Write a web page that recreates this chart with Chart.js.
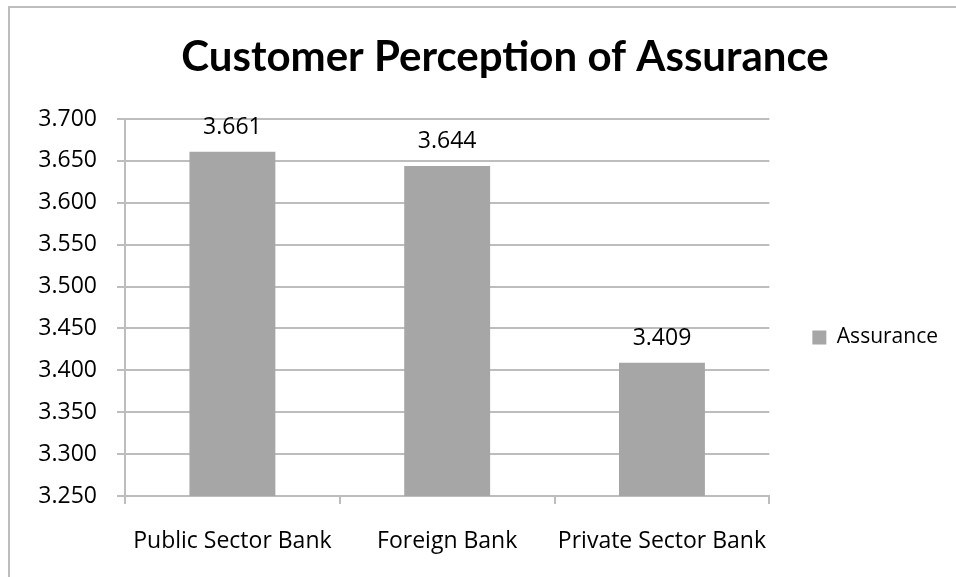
<!DOCTYPE html>
<html>
<head>
<meta charset="utf-8">
<script src="https://cdn.jsdelivr.net/npm/chart.js@4.4.1/dist/chart.umd.min.js"></script>
<style>
  html, body { margin: 0; padding: 0; background: #fff; overflow: hidden; width: 956px; height: 577px; }
  #frame {
    position: absolute; left: 8px; top: 6px; width: 990px; height: 620px;
    border-left: 2px solid #bdbdbd; border-top: 2px solid #bdbdbd;
  }
  #chart { position: absolute; left: 0; top: 0; }
</style>
</head>
<body>
<div id="frame"></div>
<canvas id="chart" width="1002" height="577"></canvas>
<script>
// -- data ------------------------------------------------------------------->
const banks = ['Public Sector Bank', 'Foreign Bank', 'Private Sector Bank'];
const assurance = [3.661, 3.644, 3.409];
const seriesName = 'Assurance';
const yMin = 3.25;
const yMax = 3.7;
const yStep = 0.05;

const barGrey = '#a6a6a6';
const lineGrey = '#bdbdbd';
const textFont = 'Open Sans';

// -- plugins ---------------------------------------------------------------->
// value printed above every bar
const barValues = {
    id: 'barValues',
    afterDatasetsDraw(chart) {
        const ctx = chart.ctx;
        ctx.save();
        ctx.font = '23px "' + textFont + '"';
        ctx.fillStyle = '#000';
        ctx.textAlign = 'center';
        ctx.textBaseline = 'alphabetic';
        chart.getDatasetMeta(0).data.forEach((bar, i) => {
            const v = chart.data.datasets[0].data[i];
            ctx.fillText(v.toFixed(3), bar.x, bar.y - 18);
        });
        ctx.restore();
    }
};

// legend sits a little below the middle of the plot, and the title is
// centred over the frame (which starts at 8px) rather than the canvas
const boxNudge = {
    id: 'boxNudge',
    afterLayout(chart) {
        chart.legend.top += 30;
        chart.legend.bottom += 30;
        chart.titleBlock.left += 62;
    }
};

// -- chart ------------------------------------------------------------------>
new Chart(document.getElementById('chart'), {
    type: 'bar',
    data: {
        labels: banks,
        datasets: [{
            label: seriesName,
            data: assurance,
            backgroundColor: barGrey,
            borderWidth: 0,
            categoryPercentage: 1,
            barPercentage: 0.4
        }]
    },
    options: {
        responsive: false,
        animation: false,
        layout: { padding: { left: 0, right: 54, top: 0, bottom: 0 } },
        plugins: {
            title: {
                display: true,
                text: 'Customer Perception of Assurance',
                color: '#000',
                font: { family: 'Lato', size: 42, weight: 'bold', lineHeight: 1.2 },
                padding: { top: 32, bottom: 36.6 }
            },
            legend: {
                position: 'right',
                fullSize: false,
                labels: {
                    boxWidth: 14,
                    boxHeight: 14,
                    padding: 43,
                    color: '#000',
                    font: { family: textFont, size: 21 }
                }
            },
            tooltip: { enabled: false }
        },
        scales: {
            x: {
                afterFit(scale) { scale.height = 81; },
                grid: { drawOnChartArea: false, drawTicks: true, tickLength: 8, color: lineGrey, lineWidth: 2 },
                border: { color: lineGrey, width: 2 },
                ticks: {
                    color: '#000',
                    padding: 24,
                    autoSkip: false,
                    maxRotation: 0,
                    minRotation: 0,
                    font: { family: textFont, size: 23 }
                }
            },
            y: {
                min: yMin,
                max: yMax,
                afterFit(scale) { scale.width = 125; },
                grid: { color: lineGrey, lineWidth: 2, tickLength: 8 },
                border: { color: lineGrey, width: 2 },
                ticks: {
                    stepSize: yStep,
                    color: '#000',
                    padding: 20,
                    font: { family: textFont, size: 23 },
                    callback: v => v.toFixed(3)
                }
            }
        }
    },
    plugins: [barValues, boxNudge]
});
</script>
</body>
</html>
